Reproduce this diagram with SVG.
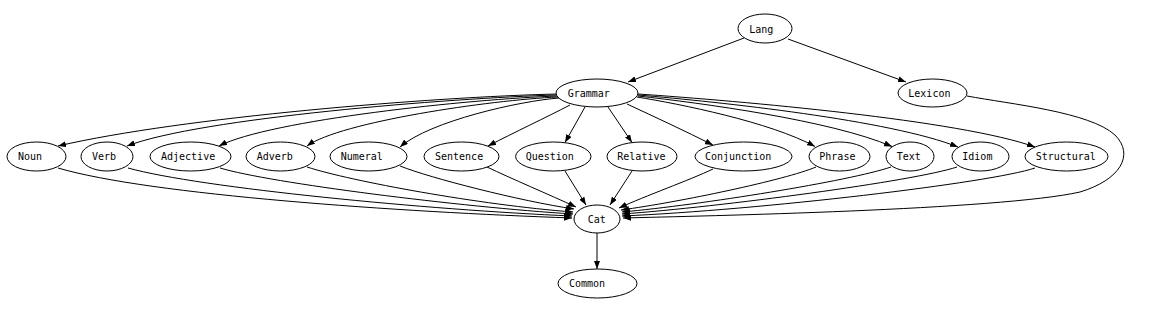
<svg xmlns="http://www.w3.org/2000/svg" width="1166" height="312" viewBox="0 0 1166 312">
<style>
.n ellipse{fill:#fff;stroke:#000;stroke-width:1}
.n text{font-family:"DejaVu Sans Mono","Liberation Mono",monospace;font-size:10px;fill:#000}
.e path{fill:none;stroke:#000;stroke-width:1;marker-end:url(#a)}
</style>
<defs>
<marker id="a" markerWidth="8" markerHeight="6" refX="8" refY="3" orient="auto" markerUnits="userSpaceOnUse"><path d="M0,0 L8,3 L0,6 z" fill="#000"/></marker>
</defs>
<rect width="1166" height="312" fill="#fff"/>
<g id="edges" class="e">
<path d="M744,38 L628,82"/>
<path d="M788,39 L906,82"/>
<path d="M557,94 C432,97 183,117 58,146"/>
<path d="M557,95 C450,98 200,118 127,146"/>
<path d="M558,96 C470,99 270,120 219,146"/>
<path d="M558,97 C490,100 340,122 307,146"/>
<path d="M559,98 C520,101 430,121 400,147"/>
<path d="M570,105 C545,118 515,132 488,146"/>
<path d="M585,107 L565,142.5"/>
<path d="M608,107 L632,142.5"/>
<path d="M627,104 C655,117 685,131 713,145"/>
<path d="M637,97 C680,104 770,122 815,146.5"/>
<path d="M638,96 C700,103 830,120 892,146.5"/>
<path d="M638,95 C720,102 890,120 958,147"/>
<path d="M638,94 C740,101 960,120 1035,147"/>
<path d="M58,168 C150,195 400,212 572,218"/>
<path d="M128,168 C200,188 430,210 572,216"/>
<path d="M220,168 C270,183 460,207 573,214"/>
<path d="M307,167 C350,181 480,205 573,212"/>
<path d="M400,166 C430,178 520,201 574,209"/>
<path d="M487,167 C510,178 550,195 576,207"/>
<path d="M565,171 L586,205"/>
<path d="M632,171 L610,205"/>
<path d="M713,169 C690,180 645,196 619,208"/>
<path d="M816,167 C785,180 680,202 621,210"/>
<path d="M891,167 C850,181 700,205 622,212"/>
<path d="M957,167 C915,181 720,207 622,214"/>
<path d="M1035,168 C990,183 760,210 622,216"/>
<path d="M967,96 C1010,104 1090,112 1115,135 C1135,155 1120,180 1080,192 C1000,210 700,216 623,218"/>
<path d="M597,233 L597,269"/>
</g>
<g id="Lang" class="n"><ellipse cx="765" cy="28.5" rx="27" ry="14.5"/><text x="749.3" y="32.5">Lang</text></g>
<g id="Grammar" class="n"><ellipse cx="597" cy="93" rx="41" ry="14"/><text x="567.7" y="97">Grammar</text></g>
<g id="Lexicon" class="n"><ellipse cx="932.5" cy="93" rx="34.5" ry="14"/><text x="908.3" y="97">Lexicon</text></g>
<g id="Noun" class="n"><ellipse cx="36.5" cy="156.5" rx="29.5" ry="14.5"/><text x="18" y="160">Noun</text></g>
<g id="Verb" class="n"><ellipse cx="107" cy="156.5" rx="26" ry="14.5"/><text x="92" y="160">Verb</text></g>
<g id="Adjective" class="n"><ellipse cx="190.5" cy="156.5" rx="40.5" ry="14.5"/><text x="161" y="160">Adjective</text></g>
<g id="Adverb" class="n"><ellipse cx="280.5" cy="156.5" rx="34.5" ry="14.5"/><text x="256.7" y="160">Adverb</text></g>
<g id="Numeral" class="n"><ellipse cx="368.5" cy="156.5" rx="38.5" ry="14.5"/><text x="340.7" y="160">Numeral</text></g>
<g id="Sentence" class="n"><ellipse cx="461.5" cy="156.5" rx="37.5" ry="14.5"/><text x="435" y="160">Sentence</text></g>
<g id="Question" class="n"><ellipse cx="553.3" cy="156.5" rx="37.7" ry="14.5"/><text x="525.7" y="160">Question</text></g>
<g id="Relative" class="n"><ellipse cx="642" cy="156.5" rx="35" ry="14.5"/><text x="617.3" y="160">Relative</text></g>
<g id="Conjunction" class="n"><ellipse cx="743.5" cy="156.5" rx="48.5" ry="14.5"/><text x="705" y="160">Conjunction</text></g>
<g id="Phrase" class="n"><ellipse cx="839.5" cy="156.5" rx="30.5" ry="14.5"/><text x="819.3" y="160">Phrase</text></g>
<g id="Text" class="n"><ellipse cx="910" cy="156.5" rx="24" ry="14.5"/><text x="896.7" y="160">Text</text></g>
<g id="Idiom" class="n"><ellipse cx="980.5" cy="156.5" rx="28.5" ry="14.5"/><text x="962.3" y="160">Idiom</text></g>
<g id="Structural" class="n"><ellipse cx="1066.5" cy="156.5" rx="41.5" ry="14.5"/><text x="1035.7" y="160">Structural</text></g>
<g id="Cat" class="n"><ellipse cx="597" cy="219" rx="23" ry="14"/><text x="587.7" y="222.5">Cat</text></g>
<g id="Common" class="n"><ellipse cx="597.5" cy="283.5" rx="39.5" ry="14.5"/><text x="569" y="286.5">Common</text></g>
</svg>
